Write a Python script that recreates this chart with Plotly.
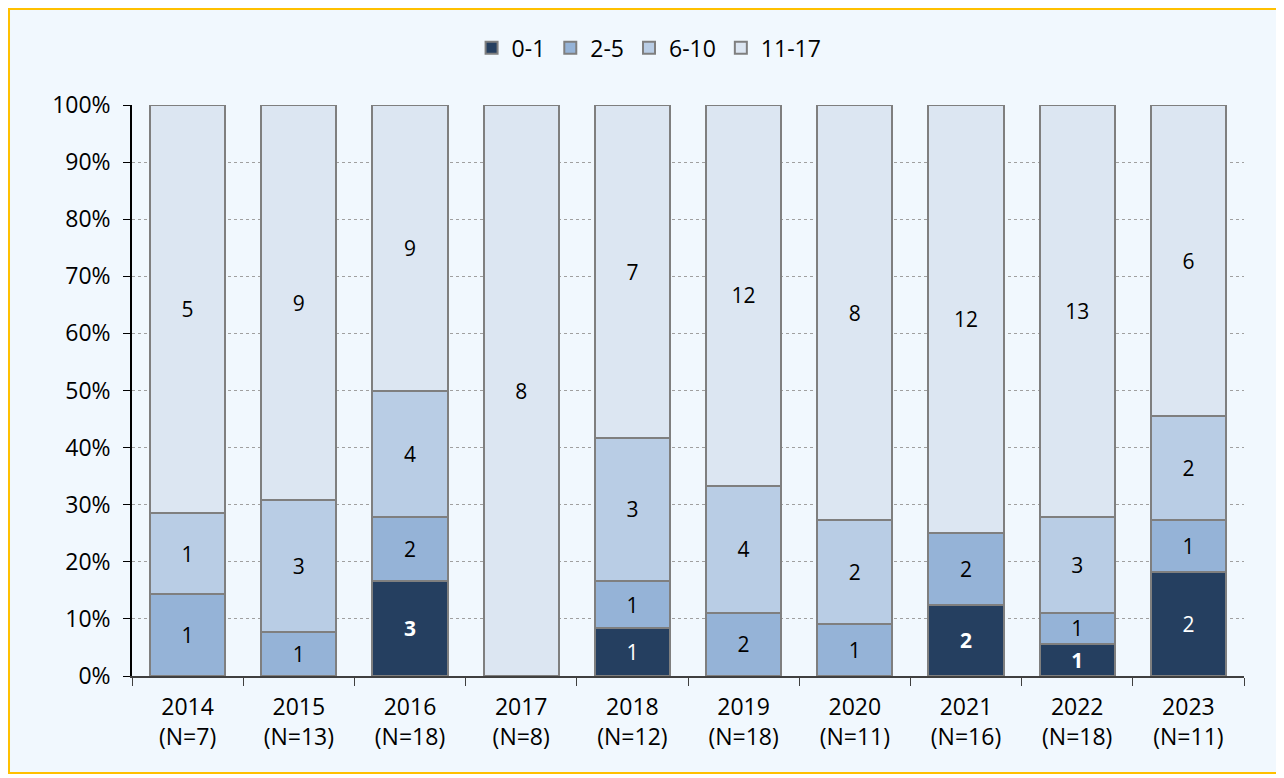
import plotly.graph_objects as go

years = ["2014", "2015", "2016", "2017", "2018", "2019", "2020", "2021", "2022", "2023"]
totals = [7, 13, 18, 8, 12, 18, 11, 16, 18, 11]
series_names = ["0-1", "2-5", "6-10", "11-17"]
counts_0_1 = [0, 0, 3, 0, 1, 0, 0, 2, 1, 2]
counts_2_5 = [1, 1, 2, 0, 1, 2, 1, 2, 1, 1]
counts_6_10 = [1, 3, 4, 0, 3, 4, 2, 0, 3, 2]
counts_11_17 = [5, 9, 9, 8, 7, 12, 8, 12, 13, 6]
bold_0_1 = [False, False, True, False, False, False, False, True, True, False]

colors = ["#253F60", "#95B3D7", "#B9CDE5", "#DCE6F2"]
text_colors = ["white", "black", "black", "black"]
all_counts = [counts_0_1, counts_2_5, counts_6_10, counts_11_17]

cats = [f"{y}<br>(N={n})" for y, n in zip(years, totals)]

fig = go.Figure()
for i, (name, cnts) in enumerate(zip(series_names, all_counts)):
    vals = [c / n for c, n in zip(cnts, totals)]
    texts = []
    for j, c in enumerate(cnts):
        if c == 0:
            texts.append("")
        elif i == 0 and bold_0_1[j]:
            texts.append(f"<b>{c}</b>")
        else:
            texts.append(str(c))
    fig.add_trace(go.Bar(
        x=cats, y=vals, name=name, text=texts,
        textposition="inside", insidetextanchor="middle", textangle=0,
        constraintext="none",
        textfont=dict(color=text_colors[i], size=21, family="Open Sans"),
        marker=dict(color=colors[i], line=dict(color="#7F7F7F", width=2)),
        hoverinfo="skip",
    ))

fig.update_layout(
    barmode="stack",
    bargap=0.325,
    width=1276, height=770,
    margin=dict(l=124, r=40, t=97, b=102),
    paper_bgcolor="white",
    plot_bgcolor="rgba(0,0,0,0)",
    font=dict(family="Open Sans", size=23, color="black"),
    uniformtext=dict(minsize=21, mode="show"),
    legend=dict(orientation="h", x=0.465, xanchor="center", y=1.1, yanchor="middle",
                font=dict(size=23), traceorder="normal", itemwidth=30,
                bgcolor="rgba(0,0,0,0)"),
    showlegend=True,
    shapes=[dict(type="rect", xref="paper", yref="paper",
                 x0=-0.1106, x1=1.0315, y0=-0.1699, y1=1.1681,
                 line=dict(color="#FFC000", width=2), fillcolor="#F1F8FE", layer="below")],
)
fig.update_xaxes(
    showline=True, linecolor="#404040", linewidth=1.5,
    ticks="outside", tickson="boundaries", ticklen=8, tickcolor="#404040",
    tickfont=dict(size=23), showgrid=False, ticklabelstandoff=10,
)
fig.update_yaxes(
    range=[0, 1], tickformat=".0%", dtick=0.1,
    showline=True, linecolor="black", linewidth=1.5,
    ticks="outside", ticklen=7, tickcolor="black",
    showgrid=True, gridcolor="#A0A0A0", griddash="dot", gridwidth=1,
    tickfont=dict(size=23), zeroline=False, ticklabelstandoff=8,
)

fig.write_html("out.html")
